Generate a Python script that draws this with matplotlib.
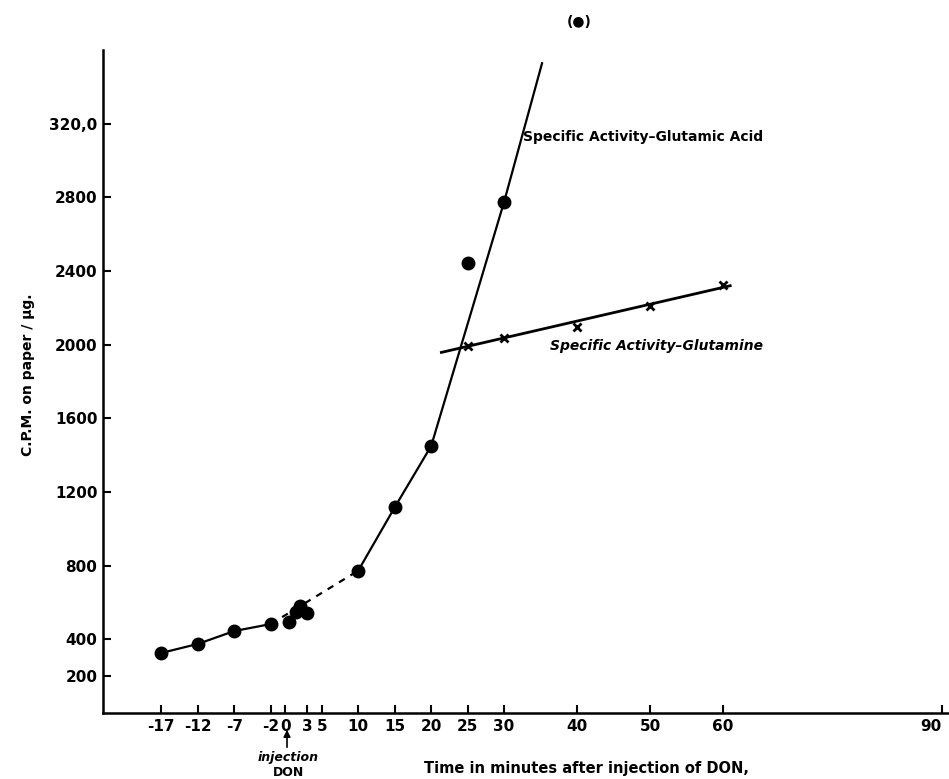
import matplotlib
matplotlib.use('Agg')
import matplotlib.pyplot as plt

# Specific activity - glutamic acid (filled circles)
acid_t = [-17, -12, -7, -2, 0.5, 1.5, 2, 3, 10, 15, 20, 25, 30]
acid_cpm = [326, 375, 445, 483, 494, 548, 581, 543, 773, 1117, 1450, 2446, 2776]

# drawn curve for glutamic acid
acid_pre_t = [-17, -12, -7, -2]
acid_pre_y = [326, 375, 445, 483]
acid_dash_t = [-2, 10]
acid_dash_y = [483, 773]
acid_post_t = [10, 15, 20, 30, 35.2]
acid_post_y = [773, 1117, 1450, 2776, 3528]

# Specific activity - glutamine (crosses) and its fitted line
gln_t = [25, 30, 40, 50, 60]
gln_cpm = [1994, 2038, 2098, 2210, 2324]
gln_fit_t = [21.4, 61.0]
gln_fit_y = [1958, 2320]

x_ticks = [-17, -12, -7, -2, 0, 3, 5, 10, 15, 20, 25, 30, 40, 50, 60, 90]
x_labels = ['-17', '-12', '-7', '-2', '0', '3', '5', '10', '15', '20', '25',
            '30', '40', '50', '60', '90']
y_ticks = [200, 400, 800, 1200, 1600, 2000, 2400, 2800, 3200]
y_labels = ['200', '400', '800', '1200', '1600', '2000', '2400', '2800', '320,0']

W, H = 949, 779
fig = plt.figure(figsize=(W / 100, H / 100), dpi=100)
ax = fig.add_axes([103 / W, 66 / H, (W - 103) / W, 663 / H])

ax.plot(acid_pre_t, acid_pre_y, color='black', lw=1.6)
ax.plot(acid_dash_t, acid_dash_y, color='black', lw=1.6, ls=(0, (3, 3)))
ax.plot(acid_post_t, acid_post_y, color='black', lw=1.6)
ax.plot(acid_t, acid_cpm, 'o', color='black', markersize=9, clip_on=False)

ax.plot(gln_fit_t, gln_fit_y, color='black', lw=2)
ax.plot(gln_t, gln_cpm, 'x', color='black', markersize=6, mew=2)

ax.set_xlim(-25, 91)
ax.set_ylim(0, 3600)
ax.set_xticks(x_ticks)
ax.set_xticklabels(x_labels, fontsize=11, fontweight='bold')
ax.get_xticklabels()[-1].set_horizontalalignment('right')
ax.set_yticks(y_ticks)
ax.set_yticklabels(y_labels, fontsize=11, fontweight='bold')
ax.tick_params(direction='in', length=6, width=1.5, pad=4)
ax.spines['top'].set_visible(False)
ax.spines['right'].set_visible(False)
ax.spines['left'].set_linewidth(1.8)
ax.spines['bottom'].set_linewidth(1.8)

ax.text(32.6, 3128, 'Specific Activity\u2013Glutamic Acid', fontsize=10,
        fontweight='bold', ha='left', va='center')
ax.text(36.3, 1993, 'Specific Activity\u2013Glutamine', fontsize=10,
        fontweight='bold', fontstyle='italic', ha='left', va='center')

fig.text(579 / W, 1 - 22 / H, '(\u25cf)', fontsize=10, fontweight='bold',
         ha='center', va='center')
fig.text(28 / W, 1 - 375 / H, 'C.P.M. on paper / \u03bcg.', fontsize=10,
         fontweight='bold', rotation=90, ha='center', va='center')
fig.text(587 / W, 1 - 768 / H, 'Time in minutes after injection of DON,',
         fontsize=10.5, fontweight='bold', ha='center', va='center')
fig.text(288 / W, 1 - 758 / H, 'injection', fontsize=9, fontweight='bold',
         fontstyle='italic', ha='center', va='center')
fig.text(288 / W, 1 - 772 / H, 'DON', fontsize=9, fontweight='bold',
         ha='center', va='center')
fig.patches.append(matplotlib.patches.FancyArrowPatch(
    (287 / W, 1 - 750 / H), (287 / W, 1 - 727 / H), transform=fig.transFigure,
    arrowstyle='-|>', mutation_scale=10, color='black', lw=1.2))

fig.savefig('out.png', dpi=100)
